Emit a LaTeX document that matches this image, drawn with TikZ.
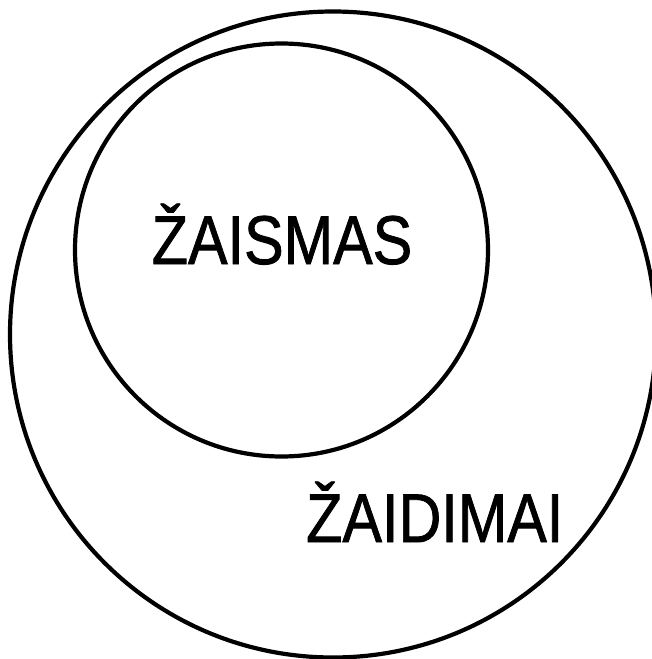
\documentclass[tikz,border=0pt]{standalone}
\usepackage{fontspec}
\setmainfont{Liberation Sans}[FakeBold=1.5]
\newfontfamily\setfont{Liberation Sans}[FakeBold=1.2]
\usetikzlibrary{positioning}

\begin{document}
\begin{tikzpicture}[
  x=1pt, y=-1pt,
  ring/.style={draw=black, line width=4.2pt},
  settext/.style={font=\setfont\fontsize{69}{71}\selectfont, inner sep=0pt,
                  text=black, xscale=0.86, transform shape},
]
  \useasboundingbox (0,0) rectangle (652,659);

  % ===== Circles =====
  \draw[ring] (333,334.5) circle[radius=323];
  \draw[ring] (281.5,250) circle[radius=206.5];

  % ===== Labels =====
  \node[settext, anchor=base] (zaismas) at (282,264) {ŽAISMAS};
  \node[settext, anchor=base west] (zaidimai) at (306,542) {ŽAIDIMAI};
\end{tikzpicture}
\end{document}
